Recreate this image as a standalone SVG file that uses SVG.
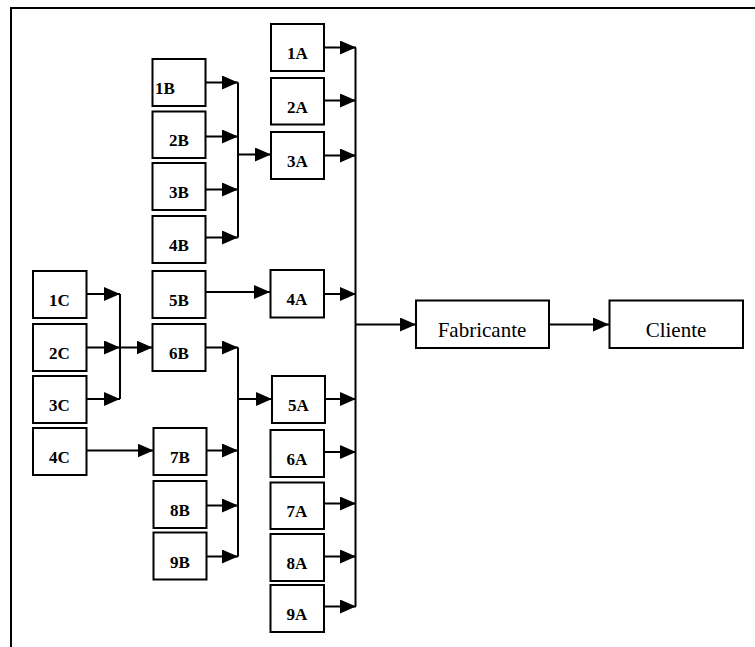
<svg xmlns="http://www.w3.org/2000/svg" width="755" height="647" viewBox="0 0 755 647">
<style>
.box{fill:#fff;stroke:#000;stroke-width:2}
text{font-family:'Liberation Serif','Times New Roman',Times,'DejaVu Serif',serif;fill:#000;text-anchor:middle}
.lb{font-weight:bold;font-size:17px}
.lr{font-size:21px}
.c line{stroke:#000;stroke-width:2}
.a{marker-end:url(#ah)}
</style>
<defs>
<marker id="ah" markerUnits="userSpaceOnUse" markerWidth="16" markerHeight="14" refX="16" refY="7" orient="auto">
<path d="M0,0 L16,7 L0,14 Z" fill="#000"/>
</marker>
</defs>
<rect width="755" height="647" fill="#fff"/>
<path d="M11,647 V8 H755" fill="none" stroke="#000" stroke-width="2"/>

<g class="c" id="connectors">
<line x1="355.5" y1="47.5" x2="355.5" y2="606.5"/>
<line class="a" x1="324" y1="47.5" x2="356" y2="47.5"/>
<line class="a" x1="324" y1="100.5" x2="356" y2="100.5"/>
<line class="a" x1="324" y1="155.5" x2="356" y2="155.5"/>
<line class="a" x1="324" y1="294" x2="356" y2="294"/>
<line class="a" x1="325" y1="399" x2="356" y2="399"/>
<line class="a" x1="324" y1="452" x2="356" y2="452"/>
<line class="a" x1="324" y1="503.5" x2="356" y2="503.5"/>
<line class="a" x1="324" y1="556.5" x2="356" y2="556.5"/>
<line class="a" x1="324" y1="606.5" x2="356" y2="606.5"/>
<line class="a" x1="355.5" y1="324.5" x2="416" y2="324.5"/>
<line class="a" x1="549" y1="324.5" x2="609" y2="324.5"/>
<line x1="238" y1="82.5" x2="238" y2="237.5"/>
<line class="a" x1="205.5" y1="82.5" x2="238" y2="82.5"/>
<line class="a" x1="205.5" y1="136.5" x2="238" y2="136.5"/>
<line class="a" x1="205.5" y1="189.5" x2="238" y2="189.5"/>
<line class="a" x1="205.5" y1="237.5" x2="238" y2="237.5"/>
<line class="a" x1="238" y1="154.5" x2="271" y2="154.5"/>
<line class="a" x1="205.5" y1="292" x2="270" y2="292"/>
<line x1="120" y1="294" x2="120" y2="399"/>
<line class="a" x1="86.5" y1="294" x2="120" y2="294"/>
<line class="a" x1="86.5" y1="347.5" x2="120" y2="347.5"/>
<line class="a" x1="86.5" y1="399" x2="120" y2="399"/>
<line class="a" x1="120" y1="347.5" x2="152.5" y2="347.5"/>
<line x1="238" y1="347.5" x2="238" y2="556.5"/>
<line class="a" x1="205.5" y1="347.5" x2="238" y2="347.5"/>
<line class="a" x1="206.5" y1="450.5" x2="238" y2="450.5"/>
<line class="a" x1="206.5" y1="505.5" x2="238" y2="505.5"/>
<line class="a" x1="206.5" y1="556.5" x2="238" y2="556.5"/>
<line class="a" x1="238" y1="399" x2="272" y2="399"/>
<line class="a" x1="86.5" y1="450.5" x2="153.5" y2="450.5"/>
</g>

<g id="n1A"><rect class="box" x="271" y="24" width="53" height="47"/><text class="lb" x="297.5" y="59">1A</text></g>
<g id="n2A"><rect class="box" x="271" y="78" width="53" height="46.5"/><text class="lb" x="297.5" y="112.5">2A</text></g>
<g id="n3A"><rect class="box" x="271" y="132" width="53" height="47"/><text class="lb" x="297.5" y="167">3A</text></g>
<g id="n4A"><rect class="box" x="270.5" y="270" width="53.5" height="47.5"/><text class="lb" x="297" y="305">4A</text></g>
<g id="n5A"><rect class="box" x="272" y="376" width="53" height="47"/><text class="lb" x="298.5" y="411">5A</text></g>
<g id="n6A"><rect class="box" x="270.5" y="430" width="53.5" height="47"/><text class="lb" x="297" y="465">6A</text></g>
<g id="n7A"><rect class="box" x="270.5" y="482.5" width="53.5" height="46.5"/><text class="lb" x="297" y="517">7A</text></g>
<g id="n8A"><rect class="box" x="270.5" y="534" width="53.5" height="47"/><text class="lb" x="297" y="569">8A</text></g>
<g id="n9A"><rect class="box" x="270.5" y="585" width="53.5" height="47"/><text class="lb" x="297" y="620">9A</text></g>

<g id="n1B"><rect class="box" x="152.5" y="59" width="53" height="47"/><text class="lb" x="155" y="94" style="text-anchor:start">1B</text></g>
<g id="n2B"><rect class="box" x="152.5" y="111.5" width="53" height="46.5"/><text class="lb" x="179" y="146">2B</text></g>
<g id="n3B"><rect class="box" x="152.5" y="163" width="53" height="47"/><text class="lb" x="179" y="198">3B</text></g>
<g id="n4B"><rect class="box" x="152.5" y="216" width="53" height="47"/><text class="lb" x="179" y="251">4B</text></g>
<g id="n5B"><rect class="box" x="152.5" y="271" width="53" height="47"/><text class="lb" x="179" y="306">5B</text></g>
<g id="n6B"><rect class="box" x="152.5" y="324" width="53" height="47"/><text class="lb" x="179" y="359">6B</text></g>
<g id="n7B"><rect class="box" x="153.5" y="428" width="53" height="47"/><text class="lb" x="180" y="463">7B</text></g>
<g id="n8B"><rect class="box" x="153.5" y="481" width="53" height="47"/><text class="lb" x="180" y="516">8B</text></g>
<g id="n9B"><rect class="box" x="153.5" y="532.5" width="53" height="47"/><text class="lb" x="180" y="568">9B</text></g>

<g id="n1C"><rect class="box" x="33" y="271" width="53.5" height="47"/><text class="lb" x="59.5" y="306">1C</text></g>
<g id="n2C"><rect class="box" x="33" y="324" width="53.5" height="47"/><text class="lb" x="59.5" y="359">2C</text></g>
<g id="n3C"><rect class="box" x="33" y="376" width="53.5" height="47"/><text class="lb" x="59.5" y="411">3C</text></g>
<g id="n4C"><rect class="box" x="33" y="428" width="53.5" height="47"/><text class="lb" x="59.5" y="463">4C</text></g>

<g id="nFabricante"><rect class="box" x="416" y="300.5" width="133" height="47.5"/><text class="lr" x="482" y="337">Fabricante</text></g>
<g id="nCliente"><rect class="box" x="609.5" y="300.5" width="133.5" height="47.5"/><text class="lr" x="676" y="337">Cliente</text></g>
</svg>
